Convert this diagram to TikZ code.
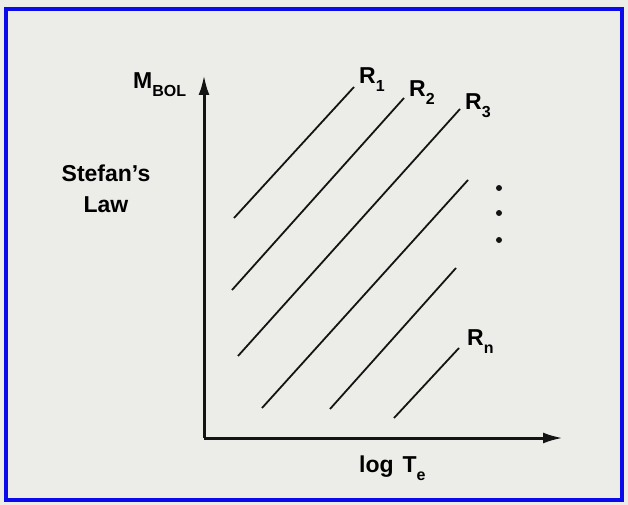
\documentclass[tikz,border=0pt]{standalone}
\usepackage{fontspec}
\setmainfont{Liberation Sans}
\usetikzlibrary{positioning,arrows.meta}
\newcommand{\lowidx}[1]{\raisebox{-8pt}{\fontsize{16}{16}\selectfont #1}}

\begin{document}
\begin{tikzpicture}[x=1pt,y=-1pt,every node/.style={font=\fontsize{23}{31}\selectfont\bfseries, inner sep=0pt}]
		% Define colors
		\definecolor{paper}{RGB}{236, 236, 232}
		\definecolor{frameblue}{RGB}{10, 10, 235}
		\definecolor{ink}{RGB}{20, 20, 20}
		\tikzset{
			axisline/.style={draw=ink, line width=3pt, -{Latex[length=20pt, width=11pt]}},
			radline/.style={draw=ink, line width=1.8pt},
			dotmark/.style={fill=ink}
		}
		
		% ===== PAPER AND FRAME =====
		\fill[paper] (0, 0) rectangle (628, 505);
		\useasboundingbox (0, 0) rectangle (628, 505);
		\draw[frameblue, line width=4pt] (6, 9) rectangle (622, 500);
		
		% ===== AXES =====
		\coordinate (origin) at (204, 438);
		\coordinate (ytop) at (204, 75);
		\coordinate (xend) at (563, 438);
		\draw[axisline] (origin) -- (ytop);
		\draw[axisline] (origin) -- (xend);
		\node[anchor=base west] (mbol) at (133, 89) {M\lowidx{BOL}};
		\node[anchor=base west] (logt) at (359, 472) {log\hspace{9pt}T\lowidx{e}};
		\node[align=center, anchor=base] (stefan) at (106, 212) {Stefan's\\Law};
		
		% ===== LINES OF CONSTANT RADIUS =====
		% R1
		\draw[radline] (234, 218) -- (354, 87) coordinate (r1end);
		\node[anchor=base west] (r1) at (359, 84) {R\lowidx{1}};
		% R2
		\draw[radline] (232, 290) -- (404, 98) coordinate (r2end);
		\node[anchor=base west] (r2) at (409, 97) {R\lowidx{2}};
		% R3
		\draw[radline] (238, 356) -- (460, 109) coordinate (r3end);
		\node[anchor=base west] (r3) at (465, 110) {R\lowidx{3}};
		% further radii
		\draw[radline] (262, 408) -- (468, 180);
		\draw[radline] (330, 409) -- (456, 268);
		% Rn
		\draw[radline] (394, 418) -- (459, 348) coordinate (rnend);
		\node[anchor=base west] (rn) at (467, 345) {R\lowidx{n}};
		
		% Dots
		\fill[dotmark] (499, 188) circle (3pt);
		\fill[dotmark] (499, 213) circle (3pt);
		\fill[dotmark] (499, 240) circle (3pt);
		
	\end{tikzpicture}
\end{document}
